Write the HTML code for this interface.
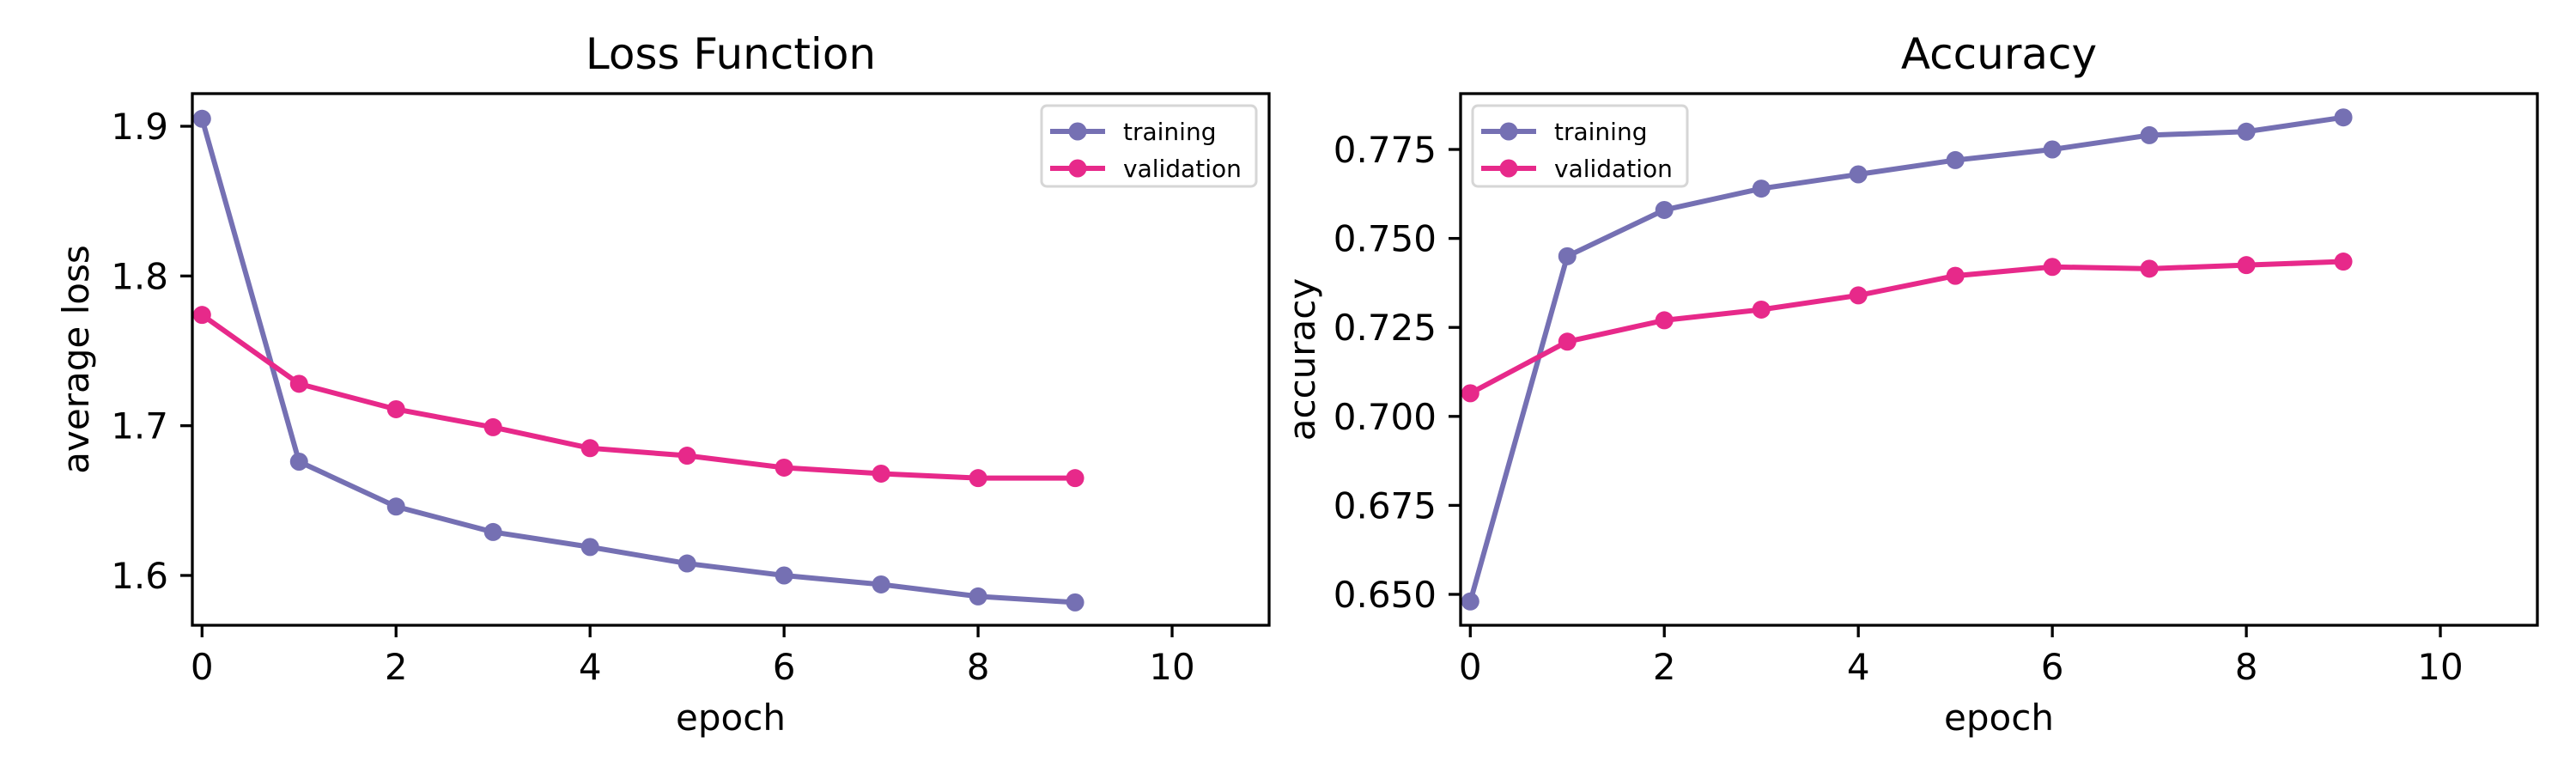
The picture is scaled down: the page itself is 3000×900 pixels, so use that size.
<!DOCTYPE html>
<html><head><meta charset="utf-8"><style>
html,body{margin:0;padding:0;background:#fff;}
svg{display:block;font-family:"DejaVu Sans","Liberation Sans",sans-serif;}
</style></head><body>
<svg id="chart" width="3000" height="900" viewBox="0 0 3000 900" xmlns="http://www.w3.org/2000/svg"></svg>
<script>
const epochs = [0,1,2,3,4,5,6,7,8,9];
const lossTraining = [1.905,1.676,1.646,1.629,1.619,1.608,1.600,1.594,1.586,1.582];
const lossValidation = [1.774,1.728,1.711,1.699,1.685,1.680,1.672,1.668,1.665,1.665];
const accTraining = [0.648,0.745,0.758,0.764,0.768,0.772,0.775,0.779,0.780,0.784];
const accValidation = [0.7065,0.721,0.727,0.730,0.734,0.7395,0.742,0.7415,0.7425,0.7435];
const xTicks = [0,2,4,6,8,10];
const lossTicks = [1.6,1.7,1.8,1.9];
const lossTickLabels = ["1.6","1.7","1.8","1.9"];
const accTicks = [0.650,0.675,0.700,0.725,0.750,0.775];
const accTickLabels = ["0.650","0.675","0.700","0.725","0.750","0.775"];
const seriesNames = ["training","validation"];

const NS="http://www.w3.org/2000/svg";
const svg=document.getElementById('chart');
const COLORS=["#7570b3","#e7298a"];
function mk(tag,attrs,parent){const e=document.createElementNS(NS,tag);for(const k in attrs)e.setAttribute(k,attrs[k]);(parent||svg).appendChild(e);return e;}

function panel(cfg){
  const {left,top,width,height,xmin,xmax,ymin,ymax,yt,ytl,title,ylabel,series,legendX,name}=cfg;
  const g=mk('g',{});
  
  
  const X=v=>left+(v-xmin)/(xmax-xmin)*width;
  const Y=v=>top+height-(v-ymin)/(ymax-ymin)*height;
  xTicks.forEach(t=>{
    const l=mk('line',{x1:X(t),x2:X(t),y1:top+height,y2:top+height+14,stroke:'#000','stroke-width':3.3},g);
    
    
    const tx=mk('text',{x:X(t),y:top+height+63,'font-size':42,'text-anchor':'middle',fill:'#000'},g);
    
    
    tx.textContent=String(t);
  });
  yt.forEach((t,i)=>{
    const l=mk('line',{x1:left-14,x2:left,y1:Y(t),y2:Y(t),stroke:'#000','stroke-width':3.3},g);
    
    
    const tx=mk('text',{x:left-28,y:Y(t)+15,'font-size':42,'text-anchor':'end',fill:'#000'},g);
    
    
    tx.textContent=ytl[i];
  });
  series.forEach((s,si)=>{
    const pts=epochs.map((e,i)=>X(e)+','+Y(s[i])).join(' ');
    const pl=mk('polyline',{points:pts,fill:'none',stroke:COLORS[si],'stroke-width':6,'stroke-linejoin':'round'},g);
    
    
    epochs.forEach((e,i)=>{
      const c=mk('circle',{cx:X(e),cy:Y(s[i]),r:10.5,fill:COLORS[si]},g);
      
      
    });
  });
  const fr=mk('rect',{x:left,y:top,width:width,height:height,fill:'none',stroke:'#000','stroke-width':3.3},g);
  
  
  const ti=mk('text',{x:left+width/2,y:80,'font-size':50,'text-anchor':'middle',fill:'#000'},g);
  
  
  ti.textContent=title;
  const xl=mk('text',{x:left+width/2,y:850,'font-size':42,'text-anchor':'middle',fill:'#000'},g);
  
  
  xl.textContent='epoch';
  const yx=cfg.ylabelX, yy=top+height/2;
  const yl=mk('text',{x:yx,y:yy,'font-size':42,'text-anchor':'middle',fill:'#000',transform:'rotate(-90 '+yx+' '+yy+')'},g);
  
  
  yl.textContent=ylabel;
  const lg=mk('g',{},g);
  
  
  mk('rect',{x:legendX,y:123,width:250,height:94,rx:6,fill:'#fff',stroke:'#d6d6d6','stroke-width':3},lg);
  seriesNames.forEach((n,i)=>{
    const cy=153+i*43;
    const ent=mk('g',{},lg);
    
    
    mk('line',{x1:legendX+10,x2:legendX+74,y1:cy,y2:cy,stroke:COLORS[i],'stroke-width':6},ent);
    mk('circle',{cx:legendX+42,cy:cy,r:10.5,fill:COLORS[i]},ent);
    const t=mk('text',{x:legendX+95,y:cy+10,'font-size':28,fill:'#000'},ent);
    t.textContent=n;
  });
}

panel({name:'loss-panel',left:224,top:109,width:1254,height:619,xmin:-0.1,xmax:11,
  ymin:1.6-(728-670)/1743,ymax:1.9+(147-109)/1743,yt:lossTicks,ytl:lossTickLabels,
  title:'Loss Function',ylabel:'average loss',series:[lossTraining,lossValidation],legendX:1213,ylabelX:103});
panel({name:'accuracy-panel',left:1701,top:109,width:1254,height:619,xmin:-0.1,xmax:11,
  ymin:0.650-(728-692)/4144,ymax:0.775+(174-109)/4144,yt:accTicks,ytl:accTickLabels,
  title:'Accuracy',ylabel:'accuracy',series:[accTraining,accValidation],legendX:1715,ylabelX:1531});
</script>
</body></html>
